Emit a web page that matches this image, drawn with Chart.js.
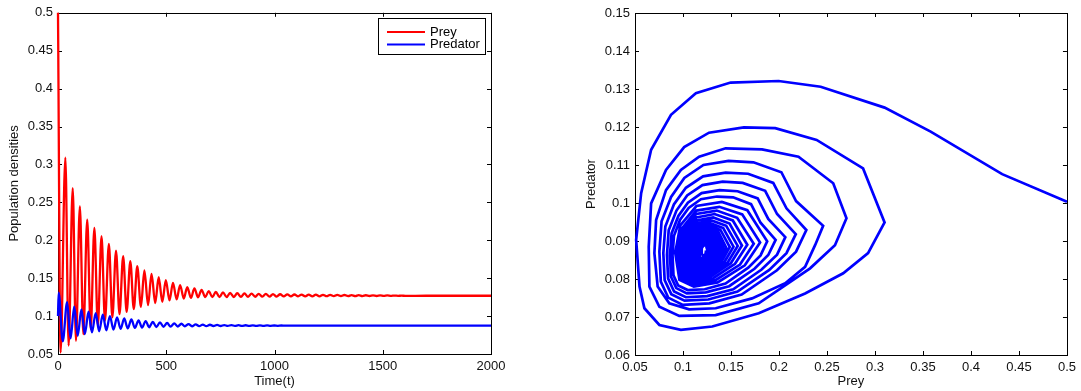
<!DOCTYPE html>
<html>
<head>
<meta charset="utf-8">
<script src="https://cdn.jsdelivr.net/npm/chart.js@4.4.0/dist/chart.umd.min.js"></script>
<style>
  html, body { margin: 0; padding: 0; background: #fff; }
  #wrap { position: relative; width: 1081px; height: 391px; }
  canvas { position: absolute; top: 0; }
  #left { left: 0; }
  #right { left: 540px; }
</style>
</head>
<body>
<div id="wrap">
  <canvas id="left" width="540" height="391"></canvas>
  <canvas id="right" width="541" height="391"></canvas>
</div>
<script>
// tick labels
const timeTicks = [0, 500, 1000, 1500, 2000];
const densityTicks = [0.05, 0.1, 0.15, 0.2, 0.25, 0.3, 0.35, 0.4, 0.45, 0.5];
const preyTicks = [0.05, 0.1, 0.15, 0.2, 0.25, 0.3, 0.35, 0.4, 0.45, 0.5];
const predatorTicks = [0.06, 0.07, 0.08, 0.09, 0.1, 0.11, 0.12, 0.13, 0.14, 0.15];

// prey density over time, [t, value] at the turning points
const preySeries = [
  [0, 0.5], [12, 0.052], [34, 0.309], [49, 0.061], [68, 0.2687], [83, 0.0675],
  [101, 0.2447], [117, 0.0763], [135, 0.2272], [151, 0.0829], [168, 0.2162], [184, 0.0872],
  [201, 0.2053], [217, 0.0938], [235, 0.1952], [251, 0.0983], [268, 0.1864], [284, 0.1026],
  [301, 0.179], [317, 0.1057], [334, 0.1724], [350, 0.1092], [366, 0.1657], [383, 0.1122],
  [399, 0.1601], [416, 0.1145], [432, 0.1557], [449, 0.1171], [465, 0.1513], [482, 0.1188],
  [498, 0.1474], [515, 0.1207], [531, 0.1438], [548, 0.122], [564, 0.1408], [581, 0.1232],
  [597, 0.1382], [614, 0.1241], [630, 0.1364], [647, 0.1248], [663, 0.1347], [680, 0.1251],
  [696, 0.1329], [713, 0.1251], [729, 0.1318], [746, 0.125], [762, 0.1312], [779, 0.1251],
  [795, 0.1307], [812, 0.1252], [828, 0.1303], [845, 0.1253], [861, 0.13], [878, 0.1254],
  [894, 0.1297], [911, 0.1255], [927, 0.1294], [944, 0.1256], [960, 0.1292], [977, 0.1257],
  [993, 0.129], [1010, 0.1258], [1026, 0.1288], [1043, 0.1259], [1059, 0.1286], [1076, 0.1259],
  [1092, 0.1285], [1109, 0.126], [1125, 0.1284], [1142, 0.126], [1158, 0.1283], [1175, 0.1261],
  [1191, 0.1282], [1208, 0.1261], [1224, 0.1281], [1241, 0.1262], [1257, 0.128], [1274, 0.1262],
  [1290, 0.1279], [1307, 0.1263], [1323, 0.1278], [1340, 0.1263], [1356, 0.1277], [1373, 0.1264],
  [1389, 0.1276], [1406, 0.1264], [1422, 0.1275], [1439, 0.1265], [1455, 0.1274], [1472, 0.1265],
  [1488, 0.1273], [1505, 0.1266], [1521, 0.1272], [1538, 0.1266], [1554, 0.1271], [1571, 0.1267],
  [1587, 0.127], [1604, 0.1267], [1700, 0.1268], [2000, 0.1268]
];

// predator density over time
const predatorSeries = [
  [0, 0.1], [3, 0.131], [22, 0.0667], [42, 0.1185], [58, 0.0706], [75, 0.1123], [91, 0.074],
  [108, 0.1087], [124, 0.0762], [141, 0.1057], [157, 0.0785], [174, 0.104], [190, 0.08],
  [207, 0.102], [223, 0.0812], [240, 0.1], [256, 0.0822], [273, 0.0983], [289, 0.0831],
  [306, 0.0968], [322, 0.0838], [339, 0.0955], [355, 0.0844], [372, 0.0944], [388, 0.0849],
  [405, 0.0934], [421, 0.0853], [438, 0.0925], [454, 0.0856], [471, 0.0917], [487, 0.0859],
  [504, 0.091], [520, 0.0861], [537, 0.0904], [553, 0.0863], [570, 0.0899], [586, 0.0865],
  [603, 0.0895], [619, 0.0866], [636, 0.0891], [652, 0.0867], [669, 0.0888], [685, 0.0868],
  [702, 0.0886], [718, 0.0869], [735, 0.0884], [751, 0.0869], [768, 0.0882], [784, 0.087],
  [801, 0.0881], [817, 0.087], [834, 0.088], [850, 0.0871], [867, 0.0879], [883, 0.0871],
  [900, 0.0878], [916, 0.0871], [933, 0.0877], [949, 0.0872], [966, 0.0877], [982, 0.0872],
  [999, 0.0876], [1015, 0.0872], [1032, 0.0876], [1048, 0.0873], [1065, 0.0875], [1081, 0.0873],
  [1098, 0.0875], [1114, 0.0873], [1200, 0.0874], [2000, 0.0874]
];

// phase portrait, [prey, predator] vertices, one loop per line
const orbit = [
  [0.5, 0.1003], [0.4325, 0.1076], [0.358, 0.1188], [0.31, 0.1251], [0.2434, 0.1306], [0.1996, 0.1321], [0.1496, 0.1317], [0.1134, 0.1289], [0.0875, 0.1232], [0.0668, 0.114], [0.0564, 0.1026], [0.0512, 0.0903], [0.0547, 0.078], [0.0598, 0.0723], [0.0754, 0.0679], [0.0978, 0.0666], [0.1305, 0.0675], [0.1789, 0.071], [0.2272, 0.0762], [0.2669, 0.0815], [0.2928, 0.0868], [0.31, 0.0949],
  [0.2876, 0.1091], [0.2392, 0.1166], [0.1961, 0.1197], [0.1634, 0.1199], [0.1271, 0.1185], [0.1012, 0.1147], [0.0823, 0.1087], [0.0668, 0.0999], [0.0643, 0.0885], [0.065, 0.078], [0.0754, 0.0727], [0.0961, 0.0703], [0.134, 0.0705], [0.1789, 0.0736], [0.2324, 0.0828], [0.2583, 0.0889], [0.2703, 0.096],
  [0.2565, 0.1052], [0.2203, 0.1122], [0.1823, 0.1141], [0.1444, 0.1144], [0.1168, 0.1122], [0.0978, 0.1087], [0.0823, 0.1034], [0.072, 0.0955], [0.0702, 0.0868], [0.0736, 0.078], [0.0857, 0.0736], [0.1064, 0.072], [0.1341, 0.0723], [0.1719, 0.0749], [0.2065, 0.0789], [0.2272, 0.0832], [0.2376, 0.0889], [0.246, 0.094],
  [0.2178, 0.1005], [0.2025, 0.1081], [0.1734, 0.1107], [0.1474, 0.1111], [0.1213, 0.11], [0.1014, 0.1066], [0.0876, 0.1016], [0.0777, 0.0952], [0.0754, 0.0872], [0.0769, 0.0793], [0.0846, 0.0751], [0.0999, 0.0732], [0.1275, 0.0736], [0.1611, 0.0759], [0.1979, 0.0823], [0.2178, 0.0872], [0.2285, 0.0929],
  [0.2078, 0.0986], [0.194, 0.1053], [0.1678, 0.1077], [0.1444, 0.108], [0.1209, 0.107], [0.103, 0.104], [0.0905, 0.0996], [0.0816, 0.0938], [0.0795, 0.0868], [0.0809, 0.0797], [0.0878, 0.076], [0.1016, 0.0743], [0.1264, 0.0746], [0.1568, 0.0767], [0.1899, 0.0824], [0.2078, 0.0868], [0.2175, 0.0918],
  [0.198, 0.0971], [0.1856, 0.1032], [0.1622, 0.1053], [0.1413, 0.1056], [0.1203, 0.1047], [0.1043, 0.102], [0.0932, 0.098], [0.0851, 0.0928], [0.0833, 0.0864], [0.0845, 0.0801], [0.0907, 0.0767], [0.103, 0.0752], [0.1252, 0.0755], [0.1523, 0.0773], [0.1819, 0.0825], [0.198, 0.0864], [0.2066, 0.091],
  [0.1888, 0.0958], [0.1778, 0.1012], [0.1569, 0.1031], [0.1381, 0.1034], [0.1194, 0.1026], [0.1051, 0.1001], [0.0952, 0.0966], [0.0881, 0.092], [0.0864, 0.0863], [0.0875, 0.0806], [0.093, 0.0776], [0.104, 0.0762], [0.1238, 0.0765], [0.1481, 0.0781], [0.1745, 0.0827], [0.1888, 0.0863], [0.1965, 0.0903],
  [0.1808, 0.0948], [0.1709, 0.0997], [0.1522, 0.1015], [0.1354, 0.1017], [0.1187, 0.101], [0.1059, 0.0987], [0.097, 0.0956], [0.0906, 0.0914], [0.0891, 0.0862], [0.0901, 0.081], [0.095, 0.0783], [0.1049, 0.0771], [0.1226, 0.0773], [0.1443, 0.0788], [0.168, 0.083], [0.1808, 0.0862], [0.1877, 0.0899],
  [0.167, 0.0981], [0.1405, 0.1003], [0.114, 0.0992], [0.0972, 0.0941], [0.0919, 0.0869], [0.0963, 0.0798], [0.1113, 0.078], [0.1361, 0.0791], [0.1644, 0.0836], [0.1803, 0.0896],
  [0.1617, 0.097], [0.1378, 0.099], [0.1139, 0.098], [0.0988, 0.0933], [0.094, 0.0868], [0.098, 0.0803], [0.1115, 0.0787], [0.1339, 0.0797], [0.1594, 0.0838], [0.1737, 0.0893],
  [0.1564, 0.0961], [0.1351, 0.098], [0.1138, 0.0971], [0.1003, 0.0928], [0.096, 0.0868], [0.0996, 0.0808], [0.1116, 0.0793], [0.1315, 0.0802], [0.1542, 0.084], [0.167, 0.089],
  [0.1519, 0.0954], [0.1329, 0.0971], [0.1139, 0.0962], [0.1018, 0.0923], [0.098, 0.0868], [0.1012, 0.0813], [0.1119, 0.0799], [0.1297, 0.0808], [0.15, 0.0842], [0.1614, 0.0888],
  [0.1485, 0.0946], [0.1314, 0.0962], [0.1143, 0.0954], [0.1034, 0.0918], [0.1, 0.0868], [0.1029, 0.0818], [0.1125, 0.0805], [0.1285, 0.0813], [0.1467, 0.0844], [0.157, 0.0887],
  [0.145, 0.094], [0.1297, 0.0954], [0.1145, 0.0947], [0.1048, 0.0914], [0.1018, 0.0868], [0.1043, 0.0822], [0.113, 0.081], [0.1272, 0.0817], [0.1435, 0.0846], [0.1526, 0.0885],
  [0.1419, 0.0934], [0.1284, 0.0947], [0.1148, 0.094], [0.1062, 0.091], [0.1035, 0.0868], [0.1058, 0.0826], [0.1134, 0.0815], [0.1261, 0.0822], [0.1406, 0.0848], [0.1487, 0.0884],
  [0.1391, 0.0929], [0.1271, 0.0941], [0.115, 0.0935], [0.1074, 0.0907], [0.105, 0.0868], [0.107, 0.0829], [0.1138, 0.0819], [0.1251, 0.0825], [0.1379, 0.085], [0.1451, 0.0882],
  [0.1368, 0.0924], [0.1261, 0.0935], [0.1154, 0.0929], [0.1086, 0.0904], [0.1065, 0.0868], [0.1083, 0.0832], [0.1143, 0.0823], [0.1243, 0.0829], [0.1357, 0.0851], [0.1421, 0.0881],
  [0.1347, 0.092], [0.1252, 0.093], [0.1157, 0.0925], [0.1097, 0.0901], [0.1078, 0.0868], [0.1094, 0.0835], [0.1148, 0.0827], [0.1237, 0.0832], [0.1338, 0.0853], [0.1395, 0.0881],
  [0.1334, 0.0916], [0.1248, 0.0926], [0.1162, 0.0921], [0.1107, 0.0899], [0.109, 0.0868], [0.1104, 0.0838], [0.1153, 0.083], [0.1234, 0.0835], [0.1325, 0.0854], [0.1377, 0.088],
  [0.1321, 0.0913], [0.1243, 0.0922], [0.1165, 0.0918], [0.1116, 0.0897], [0.11, 0.0869], [0.1113, 0.084], [0.1157, 0.0833], [0.123, 0.0837], [0.1313, 0.0855], [0.136, 0.0879],
  [0.131, 0.091], [0.1239, 0.0918], [0.1169, 0.0914], [0.1124, 0.0895], [0.111, 0.0869], [0.1122, 0.0843], [0.1162, 0.0836], [0.1228, 0.084], [0.1303, 0.0857], [0.1345, 0.0879],
  [0.1299, 0.0907], [0.1236, 0.0914], [0.1173, 0.091], [0.1133, 0.0893], [0.112, 0.0869], [0.1131, 0.0845], [0.1166, 0.0839], [0.1225, 0.0843], [0.1292, 0.0858], [0.133, 0.0878],
  [0.129, 0.0904], [0.1233, 0.0911], [0.1176, 0.0908], [0.1139, 0.0891], [0.1128, 0.0869], [0.1138, 0.0847], [0.117, 0.0841], [0.1223, 0.0845], [0.1284, 0.0859], [0.1318, 0.0877],
  [0.1281, 0.0902], [0.123, 0.0908], [0.1179, 0.0905], [0.1146, 0.089], [0.1136, 0.0869], [0.1145, 0.0848], [0.1173, 0.0843], [0.1221, 0.0846], [0.1275, 0.0859], [0.1306, 0.0877],
  [0.1272, 0.0899], [0.1227, 0.0905], [0.1181, 0.0902], [0.1152, 0.0888], [0.1143, 0.0869], [0.1151, 0.085], [0.1176, 0.0845], [0.1219, 0.0848], [0.1268, 0.086], [0.1295, 0.0876],
  [0.1265, 0.0897], [0.1224, 0.0902], [0.1184, 0.0899], [0.1158, 0.0887], [0.115, 0.0869], [0.1157, 0.0851], [0.118, 0.0847], [0.1218, 0.085], [0.1261, 0.0861], [0.1285, 0.0876],
  [0.1258, 0.0895], [0.1222, 0.09], [0.1186, 0.0898], [0.1163, 0.0886], [0.1156, 0.0869], [0.1162, 0.0853], [0.1182, 0.0849], [0.1216, 0.0852], [0.1254, 0.0862], [0.1276, 0.0876],
  [0.1252, 0.0893], [0.122, 0.0898], [0.1189, 0.0896], [0.1168, 0.0885], [0.1162, 0.087], [0.1167, 0.0855], [0.1185, 0.0851], [0.1215, 0.0853], [0.1249, 0.0863], [0.1268, 0.0875],
  [0.1247, 0.0892], [0.1219, 0.0896], [0.119, 0.0894], [0.1173, 0.0884], [0.1167, 0.087], [0.1172, 0.0856], [0.1188, 0.0853], [0.1214, 0.0855], [0.1244, 0.0864], [0.1261, 0.0875],
  [0.1243, 0.089], [0.1218, 0.0894], [0.1193, 0.0892], [0.1177, 0.0883], [0.1172, 0.087], [0.1176, 0.0858], [0.119, 0.0855], [0.1214, 0.0857], [0.124, 0.0865], [0.1255, 0.0875],
  [0.124, 0.0888], [0.1215, 0.0889], [0.1195, 0.0881], [0.1195, 0.0866], [0.1215, 0.086], [0.1235, 0.0866], [0.124, 0.0875]
];

Chart.defaults.font.family = '"Liberation Sans", Arial, Helvetica, sans-serif';
Chart.defaults.font.size = 13;
Chart.defaults.color = '#111';
Chart.defaults.animation = false;

const toXY = arr => arr.map(p => ({ x: p[0], y: p[1] }));
const useTicks = list => s => { s.ticks = list.map(v => ({ value: v })); };

// matlab style box with inward tick marks, drawn under the data
const frame = {
  id: 'frame',
  beforeDatasetsDraw(chart) {
    const { ctx, chartArea: a, scales: { x, y } } = chart;
    ctx.save();
    ctx.strokeStyle = '#000';
    ctx.lineWidth = 1;
    ctx.beginPath();
    x.ticks.forEach(t => {
      const p = Math.round(x.getPixelForValue(t.value)) + 0.5;
      ctx.moveTo(p, a.bottom); ctx.lineTo(p, a.bottom - 4);
      ctx.moveTo(p, a.top); ctx.lineTo(p, a.top + 4);
    });
    y.ticks.forEach(t => {
      const p = Math.round(y.getPixelForValue(t.value)) + 0.5;
      ctx.moveTo(a.left, p); ctx.lineTo(a.left + 4, p);
      ctx.moveTo(a.right, p); ctx.lineTo(a.right - 4, p);
    });
    ctx.stroke();
    ctx.strokeRect(Math.round(a.left) + 0.5, Math.round(a.top) + 0.5,
      Math.round(a.right - a.left), Math.round(a.bottom - a.top));
    ctx.restore();
  }
};

// legend box inside the top right corner
const cornerLegend = {
  id: 'cornerLegend',
  afterDraw(chart) {
    const { ctx, chartArea: a } = chart;
    const x0 = Math.round(a.right) - 113, y0 = Math.round(a.top) + 5;
    ctx.save();
    ctx.fillStyle = '#fff';
    ctx.fillRect(x0, y0, 107, 36);
    ctx.strokeStyle = '#000';
    ctx.lineWidth = 1;
    ctx.strokeRect(x0 + 0.5, y0 + 0.5, 107, 36);
    ctx.font = '13px "Liberation Sans", Arial, sans-serif';
    ctx.textBaseline = 'middle';
    chart.data.datasets.forEach((ds, i) => {
      const yy = y0 + 14 + i * 12.5;
      ctx.strokeStyle = ds.borderColor;
      ctx.lineWidth = 2;
      ctx.beginPath();
      ctx.moveTo(x0 + 9, yy); ctx.lineTo(x0 + 47, yy);
      ctx.stroke();
      ctx.fillStyle = '#000';
      ctx.fillText(ds.label, x0 + 52, yy);
    });
    ctx.restore();
  }
};

new Chart(document.getElementById('left'), {
  type: 'scatter',
  data: {
    datasets: [{
      label: 'Prey',
      data: toXY(preySeries),
      showLine: true,
      borderColor: '#ff0000',
      borderWidth: 2.3,
      pointRadius: 0,
      cubicInterpolationMode: 'monotone',
      clip: false,
      order: 2
    }, {
      label: 'Predator',
      data: toXY(predatorSeries),
      showLine: true,
      borderColor: '#0000ff',
      borderWidth: 2.3,
      pointRadius: 0,
      cubicInterpolationMode: 'monotone',
      clip: false,
      order: 1
    }]
  },
  options: {
    responsive: false,
    layout: { padding: { top: 12, right: 49, left: 0, bottom: 0 } },
    plugins: { legend: { display: false }, tooltip: { enabled: false } },
    scales: {
      x: {
        type: 'linear', min: 0, max: 2000,
        afterBuildTicks: useTicks(timeTicks),
        afterFit: s => { s.height = 37; },
        grid: { display: false, drawTicks: false },
        border: { display: false },
        ticks: { padding: 5, maxRotation: 0, callback: v => String(v) },
        title: { display: true, text: 'Time(t)', padding: { top: 0, bottom: 2 } }
      },
      y: {
        type: 'linear', min: 0.05, max: 0.5,
        afterBuildTicks: useTicks(densityTicks),
        afterFit: s => { s.width = 58; },
        grid: { display: false, drawTicks: false },
        border: { display: false },
        ticks: { padding: 5, callback: v => String(v) },
        title: { display: true, text: 'Population densities', padding: { top: 7, bottom: 0 } }
      }
    }
  },
  plugins: [frame, cornerLegend]
});

new Chart(document.getElementById('right'), {
  type: 'scatter',
  data: {
    datasets: [{
      label: 'Orbit',
      data: toXY(orbit),
      showLine: true,
      borderColor: '#0000ff',
      borderWidth: 2.7,
      pointRadius: 0,
      tension: 0,
      clip: false
    }]
  },
  options: {
    responsive: false,
    layout: { padding: { top: 13, right: 11, left: 0, bottom: 0 } },
    plugins: { legend: { display: false }, tooltip: { enabled: false } },
    scales: {
      x: {
        type: 'linear', min: 0.05, max: 0.5,
        afterBuildTicks: useTicks(preyTicks),
        afterFit: s => { s.height = 36; },
        grid: { display: false, drawTicks: false },
        border: { display: false },
        ticks: { padding: 5, maxRotation: 0, callback: v => String(v) },
        title: { display: true, text: 'Prey', padding: { top: 0, bottom: 2 } }
      },
      y: {
        type: 'linear', min: 0.06, max: 0.15,
        afterBuildTicks: useTicks(predatorTicks),
        afterFit: s => { s.width = 95; },
        grid: { display: false, drawTicks: false },
        border: { display: false },
        ticks: { padding: 5, callback: v => String(v) },
        title: { display: true, text: 'Predator', padding: { top: 44, bottom: 0 } }
      }
    }
  },
  plugins: [frame]
});
</script>
</body>
</html>
